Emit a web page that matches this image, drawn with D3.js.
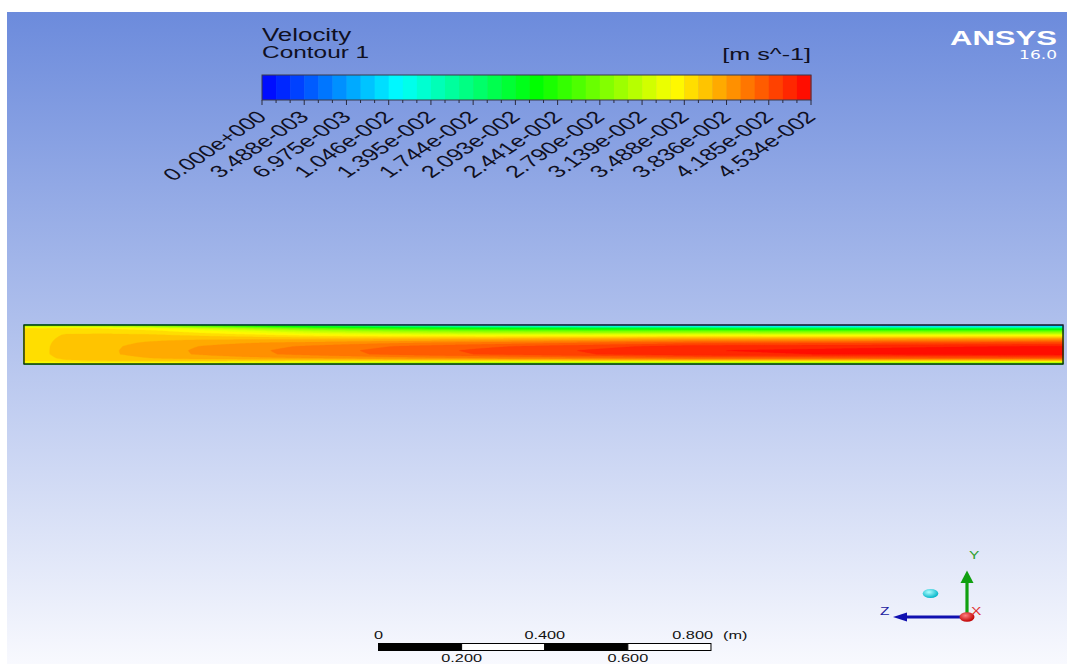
<!DOCTYPE html>
<html>
<head>
<meta charset="utf-8">
<script src="https://cdn.jsdelivr.net/npm/d3@7"></script>
<style>
  html, body { margin: 0; padding: 0; background: #ffffff; }
  svg { display: block; }
</style>
</head>
<body>
<svg id="chart" width="1067" height="664"></svg>
<script>
// ---------------------------------------------------------------------------
// Velocity contour of a developing channel flow (ANSYS CFD-Post style view)
// ---------------------------------------------------------------------------

// Legend range and labels [m s^-1]
const velocityMin = 0;
const velocityMax = 0.04534;
const levelCount = 39;
const legendTickLabels = [
  "0.000e+000", "3.488e-003", "6.975e-003", "1.046e-002", "1.395e-002",
  "1.744e-002", "2.093e-002", "2.441e-002", "2.790e-002", "3.139e-002",
  "3.488e-002", "3.836e-002", "4.185e-002", "4.534e-002"
];

// Channel extent [m]
const channelLength = 2.5;
const channelHeight = 0.095;

// Sampling stations along the channel [m]
const stationsX = [0, 0.05, 0.1, 0.2, 0.3, 0.4, 0.55, 0.7, 0.9, 1.1, 1.35, 1.6, 1.9, 2.2, 2.5];
// Sample heights above the lower wall [m], listed from the upper wall down
const sampleHeights = [0.095, 0.092, 0.087, 0.081, 0.071, 0.062, 0.052, 0.043, 0.033, 0.024, 0.014, 0.008, 0.003, 0];

// Velocity magnitude [m s^-1] at each station, upper wall -> lower wall
const profile00 = [0.0199, 0.0309, 0.0350, 0.0353, 0.0355, 0.0355, 0.0355, 0.0355, 0.0355, 0.0355, 0.0354, 0.0351, 0.0330, 0.0241];
const profile01 = [0.0197, 0.0307, 0.03494, 0.03542, 0.03571, 0.03579, 0.03585, 0.03589, 0.0359, 0.0359, 0.03574, 0.0354, 0.03318, 0.0243];
const profile02 = [0.01962, 0.03075, 0.0351, 0.03571, 0.03611, 0.03627, 0.03641, 0.03648, 0.0365, 0.03649, 0.03628, 0.03586, 0.03353, 0.0246];
const profile03 = [0.01906, 0.03015, 0.03471, 0.03559, 0.0362, 0.03654, 0.03681, 0.03696, 0.037, 0.03699, 0.03666, 0.03607, 0.03357, 0.02472];
const profile04 = [0.01795, 0.0289, 0.03383, 0.03516, 0.03617, 0.03682, 0.03733, 0.03761, 0.0377, 0.03767, 0.03715, 0.03625, 0.03345, 0.02479];
const profile05 = [0.01613, 0.02678, 0.03221, 0.03422, 0.03581, 0.03691, 0.03778, 0.03826, 0.0384, 0.03835, 0.03755, 0.03619, 0.03298, 0.02467];
const profile06 = [0.0132, 0.02334, 0.02951, 0.03258, 0.03506, 0.03686, 0.03828, 0.03906, 0.0393, 0.03922, 0.03797, 0.03592, 0.03207, 0.02437];
const profile07 = [0.01011, 0.01967, 0.0266, 0.03075, 0.03415, 0.03668, 0.03867, 0.03977, 0.0401, 0.03999, 0.03828, 0.03551, 0.03101, 0.02396];
const profile08 = [0.00692, 0.01594, 0.02371, 0.02903, 0.03341, 0.03673, 0.03933, 0.04077, 0.0412, 0.04106, 0.03886, 0.03531, 0.0301, 0.02369];
const profile09 = [0.00472, 0.01339, 0.02177, 0.02791, 0.03301, 0.03688, 0.03991, 0.04159, 0.0421, 0.04193, 0.03938, 0.03528, 0.02955, 0.02358];
const profile10 = [0.0029, 0.01133, 0.02027, 0.02714, 0.03286, 0.03722, 0.04063, 0.04253, 0.0431, 0.04291, 0.04005, 0.03546, 0.02927, 0.02362];
const profile11 = [0.00173, 0.01007, 0.01945, 0.02686, 0.03303, 0.03774, 0.04143, 0.04349, 0.0441, 0.04389, 0.04081, 0.03587, 0.02932, 0.02384];
const profile12 = [0.00075, 0.00891, 0.01854, 0.0263, 0.03277, 0.03772, 0.0416, 0.04375, 0.0444, 0.04418, 0.04095, 0.03577, 0.02902, 0.02373];
const profile13 = [0.00025, 0.00835, 0.01814, 0.02611, 0.03275, 0.03784, 0.04182, 0.04404, 0.0447, 0.04448, 0.04116, 0.03585, 0.02896, 0.02376];
const profile14 = [0, 0.0081, 0.018, 0.0261, 0.0329, 0.038, 0.0421, 0.0443, 0.045, 0.0448, 0.0414, 0.036, 0.029, 0.0239];
const velocityProfiles = [profile00, profile01, profile02, profile03, profile04, profile05, profile06,
  profile07, profile08, profile09, profile10, profile11, profile12, profile13, profile14];

// Ruler labels [m]
const rulerTop = [0, 0.4, 0.8];
const rulerBottom = [0.2, 0.6];
const rulerLength = 0.8;

// ---------------------------------------------------------------------------
const svg = d3.select("#chart");
const FONT = "'Liberation Sans', Arial, Helvetica, sans-serif";
const SX = 1.48; // horizontal stretch of the viewport

// Background
const defs = svg.append("defs");
const bg = defs.append("linearGradient").attr("id", "bg").attr("x1", 0).attr("y1", 0).attr("x2", 0).attr("y2", 1);
bg.append("stop").attr("offset", "0%").attr("stop-color", "#6c8bdc");
bg.append("stop").attr("offset", "100%").attr("stop-color", "#f8f9fe");
svg.append("rect").attr("x", 7).attr("y", 12).attr("width", 1060).attr("height", 652).attr("fill", "url(#bg)");

// Colour levels: rainbow blue -> cyan -> green -> yellow -> red
const levelStep = (velocityMax - velocityMin) / levelCount;
const levelColor = k => d3.hsl(240 * (1 - (k + 0.5) / levelCount), 1, 0.5).formatHex();
const levels = d3.range(levelCount).map(k => velocityMin + k * levelStep);

// Helper for stretched text
function label(g, x, y, text, opts) {
  return g.append("text")
    .attr("transform", `translate(${x},${y}) scale(${SX},1)` + (opts.rotate ? ` rotate(${opts.rotate})` : ""))
    .attr("font-family", opts.family || FONT)
    .attr("font-size", opts.size)
    .attr("font-weight", opts.weight || "normal")
    .attr("fill", opts.fill || "#101022")
    .attr("text-anchor", opts.anchor || "start")
    .text(text);
}

// ---------------- Legend ----------------
const legend = svg.append("g");
const legendX = d3.scaleLinear().domain([velocityMin, velocityMax]).range([262, 811]);
const barTop = 75, barBottom = 100;

legend.selectAll("rect.level")
  .data(d3.range(levelCount))
  .join("rect")
  .attr("class", "level")
  .attr("x", k => legendX(levels[k]))
  .attr("y", barTop)
  .attr("width", k => legendX(levels[k] + levelStep) - legendX(levels[k]) + 0.4)
  .attr("height", barBottom - barTop)
  .attr("fill", k => levelColor(k));

legend.append("rect")
  .attr("x", legendX(velocityMin)).attr("y", barTop)
  .attr("width", legendX(velocityMax) - legendX(velocityMin)).attr("height", barBottom - barTop)
  .attr("fill", "none").attr("stroke", "#3a3a4a").attr("stroke-width", 1);

// minor ticks at every level boundary, longer ones at labels
legend.selectAll("line.minor")
  .data(d3.range(levelCount + 1))
  .join("line")
  .attr("x1", k => legendX(k * levelStep)).attr("x2", k => legendX(k * levelStep))
  .attr("y1", barBottom).attr("y2", k => barBottom + (k % 3 === 0 ? 5 : 3))
  .attr("stroke", "#2a2a3a").attr("stroke-width", 1);

legendTickLabels.forEach(s => {
  label(legend, legendX(+s) + 6, 118, s, { size: 17, anchor: "end", rotate: -45 });
});

label(legend, 262, 40.5, "Velocity", { size: 17.5 });
label(legend, 262, 58, "Contour 1", { size: 16.5 });
label(legend, 811, 60, "[m s^-1]", { size: 17, anchor: "end" });

// ---------------- Channel contour ----------------
const xScale = d3.scaleLinear().domain([0, channelLength]).range([24, 1063]);
const yScale = d3.scaleLinear().domain([0, channelHeight]).range([364, 325]);
const stationIndex = d3.scaleLinear().domain(stationsX).range(d3.range(stationsX.length)).clamp(true);
const heightIndex = d3.scaleLinear().domain(sampleHeights).range(d3.range(sampleHeights.length)).clamp(true);

function velocityAt(xm, hm) {
  const fi = stationIndex(xm), fj = heightIndex(hm);
  const i0 = Math.min(Math.floor(fi), stationsX.length - 2), j0 = Math.min(Math.floor(fj), sampleHeights.length - 2);
  const u = fi - i0, v = fj - j0;
  const a = velocityProfiles[i0][j0], b = velocityProfiles[i0 + 1][j0];
  const c = velocityProfiles[i0][j0 + 1], d = velocityProfiles[i0 + 1][j0 + 1];
  return (a * (1 - u) + b * u) * (1 - v) + (c * (1 - u) + d * u) * v;
}

// fine render lattice over the channel
const x0 = xScale(0), x1 = xScale(channelLength), y0 = yScale(channelHeight), y1 = yScale(0);
const nx = 520, ny = 80;
const dx = (x1 - x0) / (nx - 1), dy = (y1 - y0) / (ny - 1);
const grid = new Float64Array(nx * ny);
for (let r = 0; r < ny; r++) {
  const hm = yScale.invert(y0 + r * dy);
  for (let c = 0; c < nx; c++) {
    grid[r * nx + c] = velocityAt(xScale.invert(x0 + c * dx), hm);
  }
}

const contours = d3.contours().size([nx, ny]).thresholds(levels)(grid);
const clampv = (v, lo, hi) => Math.max(lo, Math.min(hi, v));
const toScreen = d3.geoTransform({
  point(x, y) {
    this.stream.point(x0 + clampv(x - 0.5, 0, nx - 1) * dx, y0 + clampv(y - 0.5, 0, ny - 1) * dy);
  }
});
const path = d3.geoPath(toScreen);

const field = svg.append("g");
field.selectAll("path")
  .data(contours)
  .join("path")
  .attr("d", path)
  .attr("fill", (d, k) => levelColor(k))
  .attr("stroke", (d, k) => levelColor(k))
  .attr("stroke-width", 0.3);

svg.append("rect")
  .attr("x", x0).attr("y", y0).attr("width", x1 - x0).attr("height", y1 - y0)
  .attr("fill", "none").attr("stroke", "#1c2418").attr("stroke-width", 1.4);

// ---------------- Title block ----------------
label(svg, 1057, 45, "ANSYS", { size: 21, weight: "bold", fill: "#ffffff", anchor: "end" });
label(svg, 1057, 59, "16.0", { size: 11.5, fill: "#ffffff", anchor: "end", family: "'DejaVu Sans', Verdana, sans-serif" });

// ---------------- Ruler ----------------
const ruler = svg.append("g");
const rulerX = d3.scaleLinear().domain([0, rulerLength]).range([xScale(0) + 354.5, xScale(rulerLength) + 354.5]);
const segs = d3.range(4).map(i => [i * rulerLength / 4, (i + 1) * rulerLength / 4]);
ruler.selectAll("rect")
  .data(segs)
  .join("rect")
  .attr("x", d => rulerX(d[0])).attr("y", 643.5)
  .attr("width", d => rulerX(d[1]) - rulerX(d[0])).attr("height", 7)
  .attr("fill", (d, i) => i % 2 === 0 ? "#000000" : "#ffffff")
  .attr("stroke", "#000000").attr("stroke-width", 1);
const fmt = v => v === 0 ? "0" : d3.format(".3f")(v);
rulerTop.forEach(v => {
  const last = v === rulerLength;
  label(ruler, rulerX(v) + (last ? 2 : 0), 638.5, fmt(v), { size: 11, anchor: last ? "end" : "middle", fill: "#111111" });
});
label(ruler, 723, 638.5, "(m)", { size: 11, fill: "#111111" });
rulerBottom.forEach(v => {
  label(ruler, rulerX(v), 662, fmt(v), { size: 11, anchor: "middle", fill: "#111111" });
});

// ---------------- Axis triad ----------------
const triad = svg.append("g");
const ox = 967, oy = 617;
const rg = defs.append("radialGradient").attr("id", "redBall").attr("cx", "40%").attr("cy", "35%").attr("r", "65%");
rg.append("stop").attr("offset", "0%").attr("stop-color", "#ff8080");
rg.append("stop").attr("offset", "100%").attr("stop-color", "#c00000");
const cg = defs.append("radialGradient").attr("id", "cyanBall").attr("cx", "40%").attr("cy", "35%").attr("r", "65%");
cg.append("stop").attr("offset", "0%").attr("stop-color", "#b0ffff");
cg.append("stop").attr("offset", "100%").attr("stop-color", "#00b4c8");

// Y axis
triad.append("line").attr("x1", ox).attr("y1", oy).attr("x2", ox).attr("y2", 582)
  .attr("stroke", "#10a010").attr("stroke-width", 3.2);
triad.append("path").attr("d", `M${ox},570.5 L${ox - 6.5},583 L${ox + 6.5},583 Z`).attr("fill", "#10a010");
// Z axis
triad.append("line").attr("x1", ox).attr("y1", oy).attr("x2", 906).attr("y2", oy)
  .attr("stroke", "#1010b0").attr("stroke-width", 3);
triad.append("path").attr("d", `M893,${oy} L907,${oy - 4.5} L907,${oy + 4.5} Z`).attr("fill", "#1010b0");
// X axis points out of the view
triad.append("ellipse").attr("cx", ox).attr("cy", oy).attr("rx", 7.5).attr("ry", 4.8).attr("fill", "url(#redBall)");
triad.append("ellipse").attr("cx", 930.5).attr("cy", 593.5).attr("rx", 7.8).attr("ry", 4.6).attr("fill", "url(#cyanBall)");

label(triad, 969, 559, "Y", { size: 10.5, fill: "#30a030" });
label(triad, 880, 615, "Z", { size: 10.5, fill: "#2020a0" });
label(triad, 971, 615, "X", { size: 10.5, fill: "#e03030" });
</script>
</body>
</html>
